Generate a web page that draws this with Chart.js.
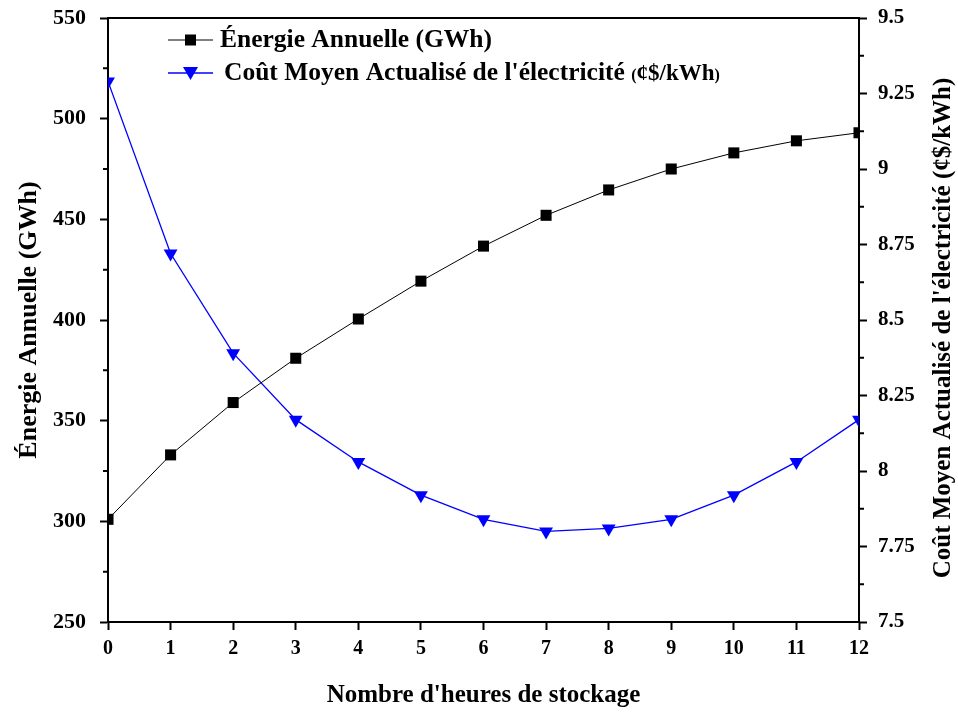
<!DOCTYPE html>
<html>
<head>
<meta charset="utf-8">
<script src="https://cdn.jsdelivr.net/npm/chart.js@4/dist/chart.umd.min.js"></script>
<style>
  html, body { margin: 0; padding: 0; background: #fff; }
  #wrap { width: 958px; height: 712px; }
</style>
</head>
<body>
<div id="wrap"><canvas id="graphique"></canvas></div>
<script>
// donnees
const heures = [0, 1, 2, 3, 4, 5, 6, 7, 8, 9, 10, 11, 12];
const energie = [301, 333, 359, 381, 400.5, 419.3, 436.7, 452, 464.6, 475, 483, 489, 493];
const cout = [9.29, 8.72, 8.39, 8.17, 8.03, 7.92, 7.84, 7.80, 7.81, 7.84, 7.92, 8.03, 8.17];
const ticksEnergie = [250, 300, 350, 400, 450, 500, 550];
const ticksCout = [7.5, 7.75, 8, 8.25, 8.5, 8.75, 9, 9.25, 9.5];
const ticksHeures = [0, 1, 2, 3, 4, 5, 6, 7, 8, 9, 10, 11, 12];

const nomEnergie = 'Énergie Annuelle (GWh)';
const nomCout = "Coût Moyen Actualisé de l'électricité";
const uniteCout = '¢$/kWh';
const titreX = "Nombre d'heures de stockage";

const police = "'Liberation Serif', 'Times New Roman', serif";

// petites graduations, cadre du haut, legende et titre de droite
const decor = {
  id: 'decor',
  afterDraw(chart) {
    const ctx = chart.ctx;
    const a = chart.chartArea;
    const yG = chart.scales.yE, yD = chart.scales.yC;
    ctx.save();
    ctx.strokeStyle = '#000';
    ctx.lineWidth = 2;
    ctx.beginPath();
    ctx.moveTo(a.left - 1, a.top);
    ctx.lineTo(a.right + 1, a.top);
    // graduations mineures
    for (let i = 0; i < ticksEnergie.length - 1; i++) {
      const y = yG.getPixelForValue((ticksEnergie[i] + ticksEnergie[i + 1]) / 2);
      ctx.moveTo(a.left - 5, y); ctx.lineTo(a.left, y);
    }
    for (let i = 0; i < ticksCout.length - 1; i++) {
      const y = yD.getPixelForValue((ticksCout[i] + ticksCout[i + 1]) / 2);
      ctx.moveTo(a.right, y); ctx.lineTo(a.right + 5, y);
    }
    ctx.stroke();

    // legende
    const lx = a.left + 60;
    const rows = [
      { y: a.top + 22, ds: chart.data.datasets[0] },
      { y: a.top + 55, ds: chart.data.datasets[1] }
    ];
    rows.forEach((r, k) => {
      ctx.strokeStyle = r.ds.borderColor;
      ctx.lineWidth = r.ds.borderWidth;
      ctx.beginPath();
      ctx.moveTo(lx, r.y); ctx.lineTo(lx + 45, r.y);
      ctx.stroke();
      ctx.fillStyle = r.ds.pointBackgroundColor;
      if (k === 0) {
        ctx.fillRect(lx + 17, r.y - 5.5, 11, 11);
      } else {
        ctx.beginPath();
        ctx.moveTo(lx + 15, r.y - 6);
        ctx.lineTo(lx + 30, r.y - 6);
        ctx.lineTo(lx + 22.5, r.y + 7);
        ctx.closePath();
        ctx.fill();
      }
    });
    ctx.fillStyle = '#000';
    ctx.textBaseline = 'middle';
    ctx.textAlign = 'left';
    ctx.font = 'bold 25.5px ' + police;
    ctx.fillText(nomEnergie, lx + 52, rows[0].y);
    ctx.fillText(nomCout, lx + 56, rows[1].y);
    let x = lx + 56 + ctx.measureText(nomCout + ' ').width;
    ctx.font = 'bold 16px ' + police;
    ctx.fillText('(', x, rows[1].y + 3);
    x += ctx.measureText('(').width;
    ctx.font = 'bold 23px ' + police;
    ctx.fillText(uniteCout, x, rows[1].y + 1);
    x += ctx.measureText(uniteCout).width;
    ctx.font = 'bold 16px ' + police;
    ctx.fillText(')', x, rows[1].y + 3);

    // titre de l'axe de droite
    ctx.translate(chart.width - 14, (a.top + a.bottom) / 2 + 8);
    ctx.rotate(-Math.PI / 2);
    ctx.textAlign = 'center';
    ctx.font = 'bold 25px ' + police;
    ctx.fillText(nomCout + ' (' + uniteCout + ')', 0, 0);
    ctx.restore();
  }
};

const ctx = document.getElementById('graphique').getContext('2d');
const chart = new Chart(ctx, {
  type: 'line',
  data: {
    datasets: [
      {
        label: nomEnergie,
        data: heures.map((h, i) => ({ x: h, y: energie[i] })),
        yAxisID: 'yE',
        borderColor: '#000000',
        backgroundColor: '#000000',
        pointBackgroundColor: '#000000',
        pointBorderColor: '#000000',
        borderWidth: 1,
        pointStyle: 'rect',
        pointRadius: 7.8,
        pointBorderWidth: 0,
        tension: 0,
        clip: 0
      },
      {
        label: nomCout + ' (' + uniteCout + ')',
        data: heures.map((h, i) => ({ x: h, y: cout[i] })),
        yAxisID: 'yC',
        borderColor: '#0000ff',
        backgroundColor: '#0000ff',
        pointBackgroundColor: '#0000ff',
        pointBorderColor: '#0000ff',
        borderWidth: 1.3,
        pointStyle: 'triangle',
        pointRotation: 180,
        pointRadius: 8,
        pointBorderWidth: 0,
        tension: 0,
        clip: 0
      }
    ]
  },
  options: {
    responsive: true,
    maintainAspectRatio: false,
    animation: false,
    devicePixelRatio: 1,
    layout: { padding: { top: 18, left: 0, right: 0, bottom: 0 } },
    plugins: {
      legend: { display: false },
      tooltip: { enabled: false }
    },
    scales: {
      x: {
        type: 'linear',
        min: 0,
        max: 12,
        afterBuildTicks: (s) => { s.ticks = ticksHeures.map(v => ({ value: v })); },
        afterFit: (s) => { s.height = 90; s.paddingLeft = 0; s.paddingRight = 0; },
        grid: { drawOnChartArea: false, tickLength: 8, tickWidth: 2, tickColor: '#000' },
        border: { display: true, color: '#000', width: 2 },
        ticks: { color: '#000', padding: 7, maxRotation: 0, font: { family: police, size: 20, weight: 'bold' } },
        title: { display: true, text: titreX, color: '#000', padding: { top: 0, bottom: 1 },
                 font: { family: police, size: 25, weight: 'bold' } }
      },
      yE: {
        type: 'linear',
        position: 'left',
        min: 250,
        max: 550,
        afterBuildTicks: (s) => { s.ticks = ticksEnergie.map(v => ({ value: v })); },
        afterFit: (s) => { s.width = 108; s.paddingTop = 0; s.paddingBottom = 0; },
        grid: { drawOnChartArea: false, tickLength: 8, tickWidth: 2, tickColor: '#000' },
        border: { display: true, color: '#000', width: 2 },
        ticks: { color: '#000', padding: 14, font: { family: police, size: 22, weight: 'bold' } },
        title: { display: true, text: nomEnergie, color: '#000', padding: { top: 14, bottom: 0 },
                 font: { family: police, size: 26, weight: 'bold' } }
      },
      yC: {
        type: 'linear',
        position: 'right',
        min: 7.5,
        max: 9.5,
        afterBuildTicks: (s) => { s.ticks = ticksCout.map(v => ({ value: v })); },
        afterFit: (s) => { s.width = 99; s.paddingTop = 0; s.paddingBottom = 0; },
        grid: { drawOnChartArea: false, tickLength: 8, tickWidth: 2, tickColor: '#000' },
        border: { display: true, color: '#000', width: 2 },
        ticks: { color: '#000', padding: 11, callback: (v) => String(v),
                 font: { family: police, size: 21, weight: 'bold' } }
      }
    }
  },
  plugins: [decor]
});
</script>
</body>
</html>
